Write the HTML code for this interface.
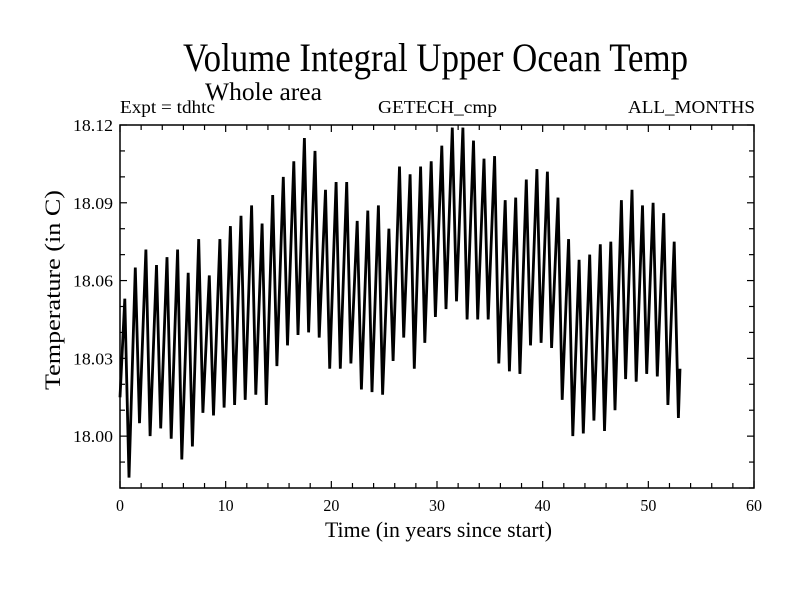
<!DOCTYPE html>
<html><head><meta charset="utf-8"><style>
html,body{margin:0;padding:0;background:#fff;}
svg{display:block;font-family:"Liberation Serif",serif;}
</style></head><body>
<svg id="chart" width="800" height="600" viewBox="0 0 800 600" xmlns="http://www.w3.org/2000/svg">
<rect width="800" height="600" fill="#fff"/>
<text x="183" y="71" font-size="40" textLength="505" lengthAdjust="spacingAndGlyphs">Volume Integral Upper Ocean Temp</text>
<text x="205" y="100" font-size="25" textLength="117" lengthAdjust="spacingAndGlyphs">Whole area</text>
<text x="120" y="113" font-size="18" textLength="95" lengthAdjust="spacingAndGlyphs">Expt = tdhtc</text>
<text x="378" y="113" font-size="18" textLength="119" lengthAdjust="spacingAndGlyphs">GETECH_cmp</text>
<text x="628" y="113" font-size="18" textLength="127" lengthAdjust="spacingAndGlyphs">ALL_MONTHS</text>
<text x="325" y="537" font-size="22" textLength="227" lengthAdjust="spacingAndGlyphs">Time (in years since start)</text>
<text transform="translate(60,390) rotate(-90)" font-size="22" textLength="200" lengthAdjust="spacingAndGlyphs">Temperature (in C)</text>
<g id="axes"></g>
<g id="series"></g>
<rect x="120" y="125" width="634" height="363" fill="none" stroke="#000" stroke-width="1.5"/>
</svg>
<script>
const xTicks=[0,10,20,30,40,50,60];
const yTicks=[18.00,18.03,18.06,18.09,18.12];
const startValue=18.015;
const endValue=18.026;
const endYear=53.0;
const peaks=[18.053,18.065,18.072,18.066,18.069,18.072,18.063,18.076,18.062,18.076,18.081,18.085,18.089,18.082,18.093,18.100,18.106,18.115,18.110,18.095,18.098,18.098,18.083,18.087,18.089,18.080,18.104,18.101,
18.104,18.106,18.112,18.119,18.119,18.114,18.107,18.108,18.091,18.092,18.099,18.103,18.102,18.092,18.076,18.068,18.070,18.074,18.075,18.091,18.095,18.089,18.090,18.086,18.075];
const troughs=[17.984,18.005,18.000,18.003,17.999,17.991,17.996,18.009,18.008,18.011,18.012,18.014,18.016,18.012,18.027,18.035,18.039,18.040,18.038,18.026,18.026,18.028,18.018,18.017,18.016,18.029,18.038,18.026,
18.036,18.046,18.049,18.052,18.045,18.045,18.045,18.028,18.025,18.024,18.035,18.036,18.034,18.014,18.000,18.001,18.006,18.002,18.010,18.022,18.021,18.024,18.023,18.012,18.007];
const X0=120,X1=754,Y0=488,Y1=125,XMIN=0,XMAX=60,YMIN=17.98,YMAX=18.12;
function sx(v){return X0+(v-XMIN)/(XMAX-XMIN)*(X1-X0);}
function sy(v){return Y0-(v-YMIN)/(YMAX-YMIN)*(Y0-Y1);}
const NS='http://www.w3.org/2000/svg';
const axes=document.getElementById('axes');
function line(x1,y1,x2,y2,name){
  const l=document.createElementNS(NS,'line');
  l.setAttribute('x1',x1);l.setAttribute('y1',y1);l.setAttribute('x2',x2);l.setAttribute('y2',y2);
  l.setAttribute('stroke','#000');l.setAttribute('stroke-width','1.2');
  
  
  axes.appendChild(l);
}
function txt(x,y,s,anchor,name,w){
  const t=document.createElementNS(NS,'text');
  t.setAttribute('x',x);t.setAttribute('y',y);t.setAttribute('font-size','17');
  t.setAttribute('text-anchor',anchor);t.textContent=s;
  t.setAttribute('textLength',w);t.setAttribute('lengthAdjust','spacingAndGlyphs');
  
  
  axes.appendChild(t);
}
for(let v=XMIN;v<=XMAX;v+=2){
  const len=(v%10===0)?7:5;
  line(sx(v),Y0,sx(v),Y0-len,'x-tick');
  line(sx(v),Y1,sx(v),Y1+len,'x-tick-top');
}
for(let i=0;i<=14;i++){
  const v=YMIN+i*0.01;
  const len=(Math.abs(((v-18.0)/0.03)-Math.round((v-18.0)/0.03))<1e-6)?7:5;
  line(X0,sy(v),X0+len,sy(v),'y-tick');
  line(X1,sy(v),X1-len,sy(v),'y-tick-right');
}
xTicks.forEach(v=>{const s=String(v);txt(sx(v),511,s,'middle','x-tick-label',s.length*8);});
yTicks.forEach(v=>txt(113,sy(v)+6,v.toFixed(2),'end','y-tick-label',40));
let pts=[[0,startValue]];
for(let i=0;i<troughs.length;i++){
  if(i<peaks.length) pts.push([i+0.45,peaks[i]]);
  pts.push([i+0.85,troughs[i]]);
}
pts.push([endYear,endValue]);
const p=document.createElementNS(NS,'polyline');
p.setAttribute('points',pts.map(q=>sx(q[0]).toFixed(1)+','+sy(q[1]).toFixed(1)).join(' '));
p.setAttribute('fill','none');p.setAttribute('stroke','#000');p.setAttribute('stroke-width','2.8');
p.setAttribute('stroke-linejoin','miter');


document.getElementById('series').appendChild(p);
</script>
</body></html>
